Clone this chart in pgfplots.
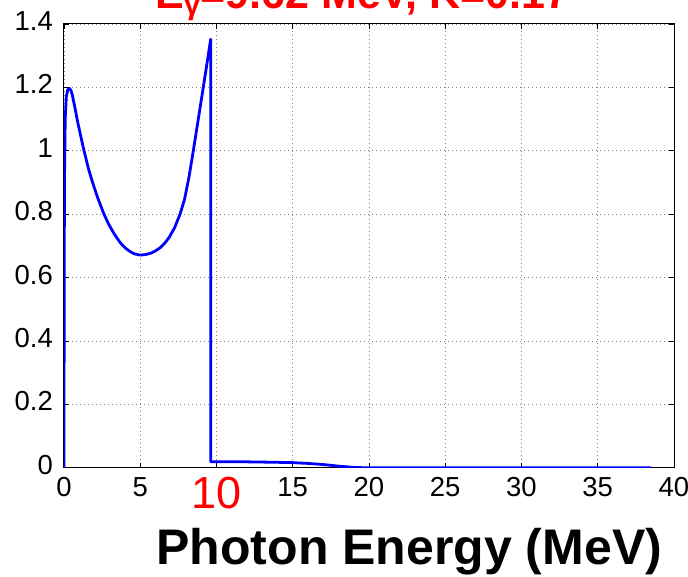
\documentclass[border=0pt]{standalone}
\usepackage{pgfplots}
\pgfplotsset{compat=1.18}
\usepackage{fontspec}
\setmainfont{Liberation Sans}
\begin{document}
\begin{tikzpicture}
\begin{axis}[
  scale only axis,
  width=610pt, height=443.7pt,
  xmin=0, xmax=40, ymin=0, ymax=1.4,
  xtick={0,5,10,15,20,25,30,35,40},
  xticklabels={0,5,{\color{red}\fontsize{45}{45}\selectfont 10},15,20,25,30,35,40},
  ytick={0,0.2,0.4,0.6,0.8,1,1.2,1.4},
  /pgf/number format/assume math mode=true,
  tick align=inside,
  major tick length=5pt,
  tick style={black, line width=0.8pt},
  axis line style={black, line width=1pt},
  grid=major,
  major grid style={gray, line width=0.8pt, dash pattern=on 1pt off 3pt},
  ticklabel style={font=\fontsize{27.5}{27.5}\selectfont},
  yticklabel style={inner sep=0pt, xshift=-11pt, yshift=3pt},
  xticklabel style={inner sep=0pt, anchor=north, yshift=-9.5pt},
  xlabel={Photon Energy (MeV)},
  xlabel style={font=\bfseries\fontsize{50}{50}\selectfont, at={(axis description cs:0.566,0)}, anchor=base, yshift=-97pt, inner sep=0pt},
  title={E\raisebox{-0.12em}{\fontsize{30}{30}\selectfont γ}=9.62 MeV, K=0.17},
  title style={font=\bfseries\fontsize{43}{43}\selectfont, text=red, at={(axis description cs:0.489,1)}, anchor=base, yshift=9pt, inner sep=0pt},
]
\addplot[blue, line width=2.8pt, line join=round] coordinates {
(0,0) (0.01,0.5) (0.03,0.9) (0.08,1.1) (0.15,1.17) (0.25,1.193) (0.35,1.197)
(0.45,1.191) (0.55,1.175) (0.7,1.14) (0.9,1.09) (1.1,1.046) (1.27,1.009)
(1.6,0.944) (1.9,0.896) (2.2,0.853) (2.58,0.805) (2.9,0.771) (3.3,0.737)
(3.67,0.711) (4.0,0.694) (4.3,0.683) (4.6,0.675) (4.98,0.671) (5.3,0.672)
(5.7,0.677) (6.0,0.684) (6.3,0.694) (6.6,0.708) (6.9,0.727) (7.25,0.757)
(7.61,0.80) (7.9,0.846) (8.2,0.918) (8.48,1.0) (8.8,1.098) (9.13,1.199)
(9.4,1.283) (9.62,1.352) (9.62,0.019) (12,0.0185) (14,0.017) (15,0.016)
(16,0.0135) (17,0.010) (18,0.005) (19,0.001) (19.6,0) (38.5,0)
};
\end{axis}
\pgfresetboundingbox
\path (-64pt,-108.3pt) rectangle (624pt,467.7pt);
\end{tikzpicture}
\end{document}
